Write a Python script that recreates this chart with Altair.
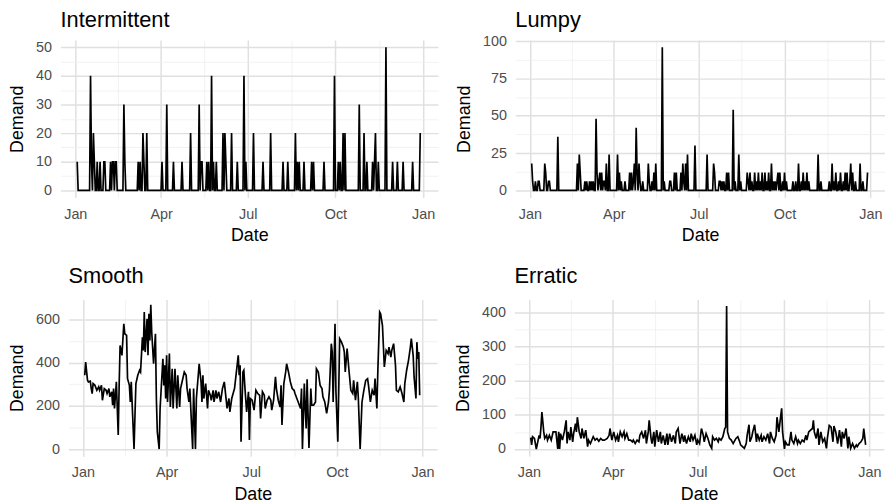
import altair as alt
import pandas as pd

# ---------------- data ----------------
YEAR_START = "2023-01-01"
FIRST_DAY, LAST_DAY = 2, 362   # day offsets from Jan 1 covered by the series

# Intermittent: non-zero days (all other days are 0)
INT_DAYS = [2, 16, 17, 19, 20, 23, 26, 30, 31, 37, 39, 40, 42, 43, 51, 52, 66, 68, 71, 72, 75,
            91, 96, 103, 112, 121, 130, 132, 133, 138, 140, 143, 145, 148, 155, 157, 158, 164,
            170, 177, 179, 187, 197, 205, 218, 223, 231, 233, 235, 240, 248, 250, 261, 272, 276,
            278, 281, 283, 298, 303, 306, 312, 314, 315, 318, 326, 333, 338, 344, 354, 362]
INT_VALS = [10, 40, 10, 20, 10, 10, 10, 10, 10, 10, 10, 10, 10, 10, 30, 10, 10, 10, 20, 10, 20,
            10, 30, 10, 10, 20, 30, 10, 10, 10, 10, 40, 10, 10, 20, 20, 10, 20,
            10, 40, 10, 20, 10, 20, 10, 10, 20, 10, 10, 10, 10, 10, 10, 40, 10,
            10, 20, 20, 30, 20, 10, 10, 10, 20, 10, 50, 10, 10, 10, 10, 20]

# Lumpy: non-zero days (all other days are 0)
LUMPY_DAYS = [2, 3, 6, 9, 10, 16, 17, 20, 21, 30, 51, 53, 54, 59, 61, 64, 66, 68, 71, 72, 74, 75,
              77, 79, 80, 82, 85, 94, 96, 98, 102, 107, 109, 111, 112, 114, 115, 117, 118, 121,
              127, 128, 131, 133, 135, 142, 144, 150, 151, 155, 157, 162, 164, 165, 167, 169,
              177, 190, 197, 198, 203, 204, 206, 208, 211, 213, 218, 220, 224, 226, 233, 234,
              236, 238, 241, 243, 245, 247, 249, 252, 254, 256, 259, 261, 263, 265, 266, 268,
              271, 273, 275, 282, 285, 288, 291, 293, 295, 297, 299, 309, 312, 321, 324, 326,
              328, 331, 333, 336, 338, 340, 343, 344, 346, 349, 354, 357, 362]
LUMPY_VALS = [18, 6, 6, 6, 6, 18, 12, 6, 6, 36, 18, 24, 12, 6, 6, 6, 6, 6, 48, 12, 6, 12,
              12, 6, 6, 18, 24, 24, 12, 6, 6, 12, 12, 6, 18, 42, 12, 18, 6, 6,
              18, 6, 6, 12, 18, 96, 6, 6, 6, 12, 12, 12, 18, 6, 18, 24,
              30, 24, 18, 12, 6, 6, 6, 6, 12, 12, 54, 6, 24, 6, 12, 6,
              12, 6, 12, 6, 12, 6, 12, 12, 6, 12, 18, 6, 6, 6, 12, 12,
              6, 12, 6, 6, 6, 18, 6, 12, 6, 12, 6, 24, 6, 6, 18, 6,
              12, 6, 12, 6, 12, 12, 6, 18, 12, 6, 18, 6, 12]

# Smooth
SMOOTH_DAYS = [2, 3, 5, 6, 8, 9, 10, 11, 13, 15, 17, 18, 20, 21, 23, 25, 26, 28, 29, 31, 32, 33,
               34, 36, 38, 39, 40, 42, 44, 45, 47, 48, 50, 51, 52, 55, 56, 57, 59, 61, 62, 64,
               65, 66, 67, 69, 70, 71, 72, 73, 74, 76, 78, 79, 80, 82, 83, 84, 86, 87, 88, 89,
               90, 91, 93, 94, 96, 97, 99, 101, 102, 104, 105, 109, 111, 112, 114, 115, 118, 119,
               121, 122, 125, 127, 128, 129, 130, 132, 134, 135, 137, 138, 140, 141, 143, 144,
               146, 148, 150, 152, 155, 157, 158, 160, 162, 163, 167, 168, 169, 170, 172, 173,
               174, 176, 178, 179, 180, 182, 184, 186, 188, 190, 191, 193, 195, 196, 198, 200,
               202, 203, 205, 207, 208, 210, 212, 213, 214, 216, 218, 219, 221, 223, 225, 227,
               228, 230, 232, 234, 235, 236, 238, 239, 240, 241, 243, 245, 246, 248, 250, 251,
               253, 255, 257, 258, 260, 262, 264, 265, 267, 268, 269, 271, 272, 274, 276, 278,
               280, 281, 282, 284, 286, 288, 290, 291, 293, 295, 296, 298, 300, 302, 304, 306,
               307, 309, 311, 313, 314, 316, 317, 319, 320, 322, 324, 326, 328, 329, 331, 332,
               334, 336, 337, 339, 341, 343, 345, 346, 348, 350, 352, 353, 355, 356, 358, 359,
               360, 361, 362]
SMOOTH_VALS = [342, 403, 318, 311, 314, 280, 257, 303, 295, 272, 288, 272, 295, 226, 280, 272, 257,
               280, 242, 265, 203, 280, 188, 311, 65, 295, 480, 434, 580, 534, 526, 326, 295, 218,
               311, 0, 157, 303, 342, 365, 357, 518, 457, 634, 449, 603, 434, 626, 503, 668, 542,
               395, 534, 234, 80, 0, 188, 265, 418, 295, 388, 234, 434, 218, 442, 195, 372, 188,
               372, 188, 342, 195, 280, 357, 342, 280, 218, 280, 0, 280, 0, 234, 395, 311, 218,
               342, 234, 303, 188, 272, 249, 226, 272, 218, 272, 234, 265, 218, 280, 311, 188,
               234, 172, 234, 265, 280, 434, 342, 388, 34, 357, 365, 295, 172, 265, 42, 234, 226,
               180, 272, 257, 249, 142, 265, 249, 188, 226, 242, 226, 180, 226, 334, 280, 226,
               195, 295, 111, 303, 357, 395, 357, 311, 280, 272, 257, 234, 211, 188, 280, 0, 303,
               188, 95, 323, 5, 280, 203, 203, 218, 372, 357, 295, 280, 242, 218, 165, 218, 272,
               488, 449, 218, 580, 265, 34, 511, 495, 472, 449, 357, 465, 365, 272, 257, 318,
               226, 311, 242, 0, 218, 272, 318, 326, 295, 218, 272, 249, 326, 188, 357, 634, 626,
               572, 380, 457, 442, 472, 426, 457, 488, 388, 272, 265, 288, 257, 218, 303, 365,
               411, 472, 511, 434, 334, 234, 495, 418, 449, 249]

# Erratic
ERR_DAYS = [2, 3, 4, 6, 8, 11, 12, 13, 14, 16, 17, 19, 20, 22, 24, 26, 27, 29, 31, 32, 33, 34, 36,
            38, 40, 41, 42, 44, 45, 47, 48, 50, 51, 52, 54, 56, 57, 59, 61, 63, 64, 66, 69, 71,
            73, 75, 77, 79, 81, 84, 86, 87, 89, 91, 93, 95, 96, 98, 100, 102, 103, 105, 107, 109,
            111, 112, 114, 116, 118, 119, 121, 123, 125, 126, 128, 129, 131, 132, 134, 135, 137,
            139, 141, 142, 144, 146, 148, 149, 151, 153, 155, 157, 158, 160, 162, 164, 166, 167,
            169, 171, 173, 174, 176, 178, 180, 181, 183, 185, 187, 188, 190, 192, 194, 196, 197,
            199, 201, 203, 204, 206, 208, 210, 211, 212, 213, 215, 217, 219, 220, 222, 224, 226,
            227, 229, 231, 233, 234, 236, 237, 239, 240, 242, 244, 245, 247, 249, 250, 252, 254,
            256, 258, 259, 261, 263, 265, 266, 268, 269, 271, 272, 274, 275, 277, 279, 281, 282,
            284, 286, 288, 289, 291, 293, 295, 297, 298, 300, 302, 304, 305, 306, 308, 310, 311,
            313, 315, 317, 319, 320, 322, 324, 326, 327, 329, 331, 333, 335, 336, 338, 340, 342,
            343, 345, 347, 349, 351, 352, 354, 356, 358, 359, 361]
ERR_VALS = [33, 12, 36, 31, 0, 40, 31, 64, 108, 50, 31, 40, 26, 40, 26, 50, 50, 50, 0, 50, 0, 45, 26,
            50, 84, 16, 50, 26, 64, 21, 45, 74, 50, 93, 50, 31, 60, 31, 55, 7, 26, 16, 36, 26,
            31, 23, 31, 26, 26, 31, 40, 60, 26, 50, 26, 40, 21, 50, 36, 50, 31, 45, 26, 26,
            21, 26, 16, 26, 21, 40, 50, 31, 55, 16, 50, 84, 31, 16, 50, 7, 55,
            21, 50, 16, 40, 12, 45, 12, 45, 21, 40, 16, 50, 60, 16, 45, 21, 40,
            16, 36, 21, 45, 26, 40, 12, 26, 16, 60, 40, 21, 45, 31, 12, 2, 36,
            26, 31, 21, 31, 26, 36, 60, 64, 418, 50, 31, 26, 16, 21, 31, 36, 21,
            12, 7, 2, 16, 40, 71, 21, 36, 50, 71, 21, 45, 26, 40, 21, 36, 26,
            45, 16, 50, 31, 21, 40, 93, 50, 74, 119, 50, 0, 21, 12, 12, 50, 26,
            16, 36, 16, 26, 16, 26, 21, 40, 26, 50, 55, 60, 84, 50, 31, 60, 12,
            50, 21, 31, 2, 31, 69, 64, 21, 67, 50, 16, 55, 7, 50, 31, 60, 2,
            36, 2, 16, 2, 12, 7, 16, 21, 31, 60, 12]

# axis breaks
X_MAJOR = [(2023, 1, 1), (2023, 4, 1), (2023, 7, 1), (2023, 10, 1), (2024, 1, 1)]
X_MINOR = [(2023, 2, 15), (2023, 5, 16), (2023, 8, 16), (2023, 11, 16)]
X_LIMITS = [(2022, 12, 16, 12), (2024, 1, 16, 17)]

INT_TICKS, INT_STEP, INT_DOM = [0, 5, 10, 15, 20, 25, 30, 35, 40, 45, 50], 10, [-2.5, 52.5]
LUMPY_TICKS, LUMPY_STEP, LUMPY_DOM = [0, 12.5, 25, 37.5, 50, 62.5, 75, 87.5, 100], 25, [-4.8, 100.8]
SMOOTH_TICKS, SMOOTH_STEP, SMOOTH_DOM = [0, 100, 200, 300, 400, 500, 600], 200, [-33, 692]
ERR_TICKS, ERR_STEP, ERR_DOM = [0, 50, 100, 150, 200, 250, 300, 350, 400], 100, [-21, 437]

# ---------------- build ----------------
start = pd.Timestamp(YEAR_START)


def frame(days, vals, fill_zero=False):
    if fill_zero:
        lookup = dict(zip(days, vals))
        days = list(range(FIRST_DAY, LAST_DAY + 1))
        vals = [lookup.get(d, 0) for d in days]
    dates = [(start + pd.Timedelta(days=int(d))).strftime("%Y-%m-%d") for d in days]
    return pd.DataFrame({"date": dates, "value": vals})


def dt(t):
    y, m, d = t[0], t[1], t[2]
    h = t[3] if len(t) > 3 else 0
    return alt.DateTime(year=y, month=m, date=d, hours=h, utc=True)


FONT = "Liberation Sans"
MAJ_C, MIN_C = "#e0e0e0", "#eeeeee"
MAJ_W, MIN_W = 1.5, 0.8
GAP = 17

x_values = [dt(t) for t in sorted(X_MAJOR + X_MINOR)]
x_major_test = "utcdate(datum.value) === 1"
x_axis = alt.Axis(
    values=x_values,
    labelExpr=f"{x_major_test} ? utcFormat(datum.value, '%b') : ''",
    gridColor={"condition": {"test": x_major_test, "value": MAJ_C}, "value": MIN_C},
    gridWidth={"condition": {"test": x_major_test, "value": MAJ_W}, "value": MIN_W},
    labelOverlap=False, labelFlush=False,
)


def panel(df, title, ticks, step, ydom, w, h, toff):
    test = f"datum.value % {step} === 0"
    y_axis = alt.Axis(
        values=ticks,
        labelExpr=f"{test} ? datum.label : ''",
        gridColor={"condition": {"test": test, "value": MAJ_C}, "value": MIN_C},
        gridWidth={"condition": {"test": test, "value": MAJ_W}, "value": MIN_W},
        labelOverlap=False, labelFlush=False,
    )
    return alt.Chart(df, title=alt.Title(title, offset=toff)).mark_line(
        color="black", strokeWidth=1.7
    ).encode(
        x=alt.X("date:T", title="Date",
                scale=alt.Scale(type="utc", domain=[dt(t) for t in X_LIMITS]), axis=x_axis),
        y=alt.Y("value:Q", title="Demand",
                scale=alt.Scale(domain=ydom, nice=False, zero=False), axis=y_axis),
    ).properties(width=w, height=h)


def spacer():
    # invisible 1px cell so each row is laid out from its own left edge
    return alt.Chart(pd.DataFrame({"v": [0]})).mark_point(
        opacity=0, size=0, strokeWidth=0
    ).encode(x=alt.value(0), y=alt.value(0)).properties(width=1, height=1)


p1 = panel(frame(INT_DAYS, INT_VALS, True), "Intermittent", INT_TICKS, INT_STEP, INT_DOM, 381, 159, 7)
p2 = panel(frame(LUMPY_DAYS, LUMPY_VALS, True), "Lumpy", LUMPY_TICKS, LUMPY_STEP, LUMPY_DOM, 373, 159, 1)
p3 = panel(frame(SMOOTH_DAYS, SMOOTH_VALS), "Smooth", SMOOTH_TICKS, SMOOTH_STEP, SMOOTH_DOM, 372, 158, 12)
p4 = panel(frame(ERR_DAYS, ERR_VALS), "Erratic", ERR_TICKS, ERR_STEP, ERR_DOM, 373, 158, 12)

chart = alt.vconcat(
    alt.hconcat(spacer(), p1, p2, spacing=GAP),
    alt.hconcat(spacer(), p3, p4, spacing=GAP),
    spacing=20,
).properties(
    padding={"left": -GAP - 1, "top": -1, "right": 0, "bottom": 0}
).configure_view(
    stroke=None
).configure_axis(
    labelFont=FONT, labelFontSize=14.5, labelColor="#4d4d4d",
    titleFont=FONT, titleFontSize=18, titleFontWeight="normal", titleColor="black",
    domain=False, ticks=False, tickSize=0,
).configure_axisX(
    labelPadding=10, titlePadding=6
).configure_axisY(
    labelPadding=9, titlePadding=9
).configure_title(
    font=FONT, fontSize=22, fontWeight="normal", color="black",
    anchor="start", frame="group", baseline="alphabetic"
)

chart.save("out.html", embed_options={"renderer": "svg", "actions": False})
